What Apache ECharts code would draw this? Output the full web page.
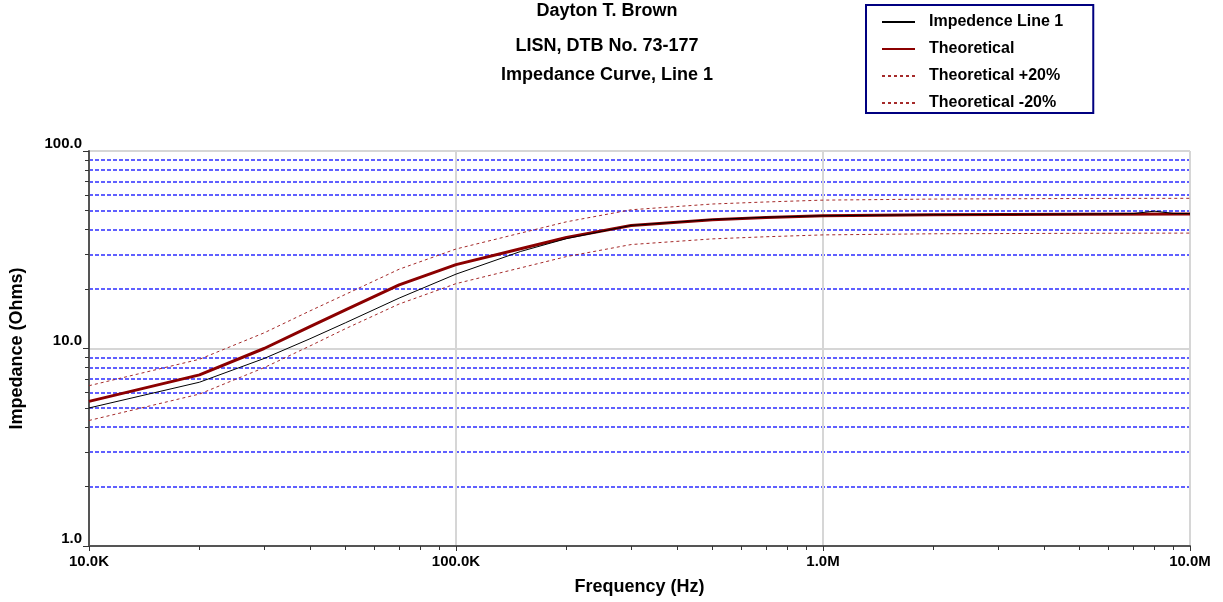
<!DOCTYPE html>
<html>
<head>
<meta charset="utf-8">
<script src="https://cdn.jsdelivr.net/npm/echarts@6/dist/echarts.min.js"></script>
<style>
  html, body { margin: 0; padding: 0; background: #fff; }
  #container { width: 1223px; height: 602px; }
</style>
</head>
<body>
<div id="container"></div>
<script>
var dom = document.getElementById("container");
var myChart = echarts.init(dom);

// frequencies (Hz) for the theoretical curves
var theoFreq = [1e4, 2e4, 3e4, 4e4, 5e4, 7e4, 1e5, 1.5e5, 2e5, 3e5, 5e5, 7e5, 1e6, 2e6, 5e6, 1e7];
var theoretical = [5.4, 7.35, 10.0, 12.9, 15.7, 21.0, 26.6, 32.0, 36.5, 42.0, 44.9, 46.0, 47.0, 47.6, 47.9, 48.0];
var theoPlus20 = [6.48, 8.82, 12.0, 15.5, 18.8, 25.2, 31.9, 38.4, 43.8, 50.4, 53.9, 55.2, 56.4, 57.1, 57.5, 57.6];
var theoMinus20 = [4.32, 5.88, 8.0, 10.3, 12.6, 16.8, 21.3, 25.6, 29.2, 33.6, 35.9, 36.8, 37.6, 38.1, 38.3, 38.4];

// measured line 1
var lineFreq = [1e4, 2e4, 3e4, 4e4, 5e4, 7e4, 1e5, 1.5e5, 2e5, 3e5, 5e5, 7e5, 1e6, 2e6, 5e6, 7e6, 8e6, 9e6, 1e7];
var line1 = [5.0, 6.75, 8.9, 11.2, 13.5, 18.0, 23.8, 31.0, 36.0, 42.0, 45.0, 46.2, 47.0, 47.6, 47.9, 48.2, 49.6, 48.3, 48.2];

// minor tick positions
var xMinor = [2e4, 3e4, 4e4, 5e4, 6e4, 7e4, 8e4, 9e4,
              2e5, 3e5, 4e5, 5e5, 6e5, 7e5, 8e5, 9e5,
              2e6, 3e6, 4e6, 5e6, 6e6, 7e6, 8e6, 9e6];
var yMinor = [2, 3, 4, 5, 6, 7, 8, 9, 20, 30, 40, 50, 60, 70, 80, 90];

var titles = ['Dayton T. Brown', 'LISN, DTB No. 73-177', 'Impedance Curve, Line 1'];
var titleTops = [2, 37, 66];

function pairs(xs, ys) {
    return xs.map(function (x, i) { return [x, ys[i]]; });
}

var font = 'Liberation Sans, Arial, sans-serif';

option = {
    animation: false,
    backgroundColor: '#ffffff',
    title: titles.map(function (t, i) {
        return {
            text: t,
            left: 607,
            top: titleTops[i],
            padding: 0,
            textAlign: 'center',
            textStyle: { fontFamily: font, fontSize: 18, fontWeight: 'bold', color: '#000' }
        };
    }),
    legend: {
        orient: 'vertical',
        left: 866,
        top: 5,
        padding: [9, 30, 2, 15],
        itemWidth: 33,
        itemHeight: 14,
        itemGap: 11,
        borderColor: '#000080',
        borderWidth: 2,
        borderRadius: 0,
        itemStyle: { opacity: 0 },
        textStyle: { fontFamily: font, fontSize: 16, fontWeight: 'bold', color: '#000', padding: [0, 0, 0, 9] },
        data: ['Impedence Line 1', 'Theoretical', 'Theoretical +20%', 'Theoretical -20%']
    },
    grid: { left: 89, right: 33, top: 151, bottom: 56 },
    xAxis: [{
        type: 'log',
        logBase: 10,
        min: 1e4,
        max: 1e7,
        name: 'Frequency (Hz)',
        nameLocation: 'middle',
        nameGap: 32,
        nameTextStyle: { fontFamily: font, fontSize: 18, fontWeight: 'bold', color: '#000' },
        axisLine: { lineStyle: { color: '#555', width: 2 } },
        axisTick: { show: true, length: 5, lineStyle: { color: '#333' } },
        axisLabel: {
            fontFamily: font, fontSize: 15, fontWeight: 'bold', color: '#000', margin: 8,
            formatter: function (v) {
                return v >= 1e6 ? (v / 1e6).toFixed(1) + 'M' : (v / 1e3).toFixed(1) + 'K';
            }
        },
        splitLine: { show: true, lineStyle: { color: '#d6d6d6', width: 2 } }
    }, {
        type: 'log',
        logBase: 10,
        min: 1e4,
        max: 1e7,
        position: 'bottom',
        axisLine: { show: false },
        axisTick: { show: true, length: 4, customValues: xMinor, lineStyle: { color: '#333' } },
        axisLabel: { show: false },
        splitLine: { show: false }
    }],
    yAxis: [{
        type: 'log',
        logBase: 10,
        min: 1,
        max: 100,
        name: 'Impedance (Ohms)',
        nameLocation: 'middle',
        nameGap: 63,
        nameTextStyle: { fontFamily: font, fontSize: 18, fontWeight: 'bold', color: '#000' },
        axisLine: { show: true, lineStyle: { color: '#555', width: 2 } },
        axisTick: { show: true, length: 6, lineStyle: { color: '#333' } },
        axisLabel: {
            fontFamily: font, fontSize: 15, fontWeight: 'bold', color: '#000', margin: 7,
            verticalAlign: 'bottom',
            formatter: function (v) { return v.toFixed(1); }
        },
        splitLine: { show: true, lineStyle: { color: '#d6d6d6', width: 2 } }
    }, {
        type: 'log',
        logBase: 10,
        min: 1,
        max: 100,
        position: 'left',
        axisLine: { show: false },
        axisTick: { show: true, length: 4, customValues: yMinor, lineStyle: { color: '#333' } },
        axisLabel: { show: false },
        splitLine: { show: true, lineStyle: { color: '#6060ff', width: 2, type: [4, 2] } }
    }],
    series: [{
        name: 'Impedence Line 1',
        type: 'line',
        symbol: 'none',
        z: 4,
        lineStyle: { color: '#000000', width: 1 },
        itemStyle: { color: '#000000' },
        data: pairs(lineFreq, line1)
    }, {
        name: 'Theoretical',
        type: 'line',
        symbol: 'none',
        z: 3,
        lineStyle: { color: '#8b0000', width: 3 },
        itemStyle: { color: '#8b0000' },
        data: pairs(theoFreq, theoretical)
    }, {
        name: 'Theoretical +20%',
        type: 'line',
        symbol: 'none',
        z: 2,
        lineStyle: { color: '#a52a2a', width: 1, type: [3, 3] },
        itemStyle: { color: '#a52a2a' },
        data: pairs(theoFreq, theoPlus20)
    }, {
        name: 'Theoretical -20%',
        type: 'line',
        symbol: 'none',
        z: 2,
        lineStyle: { color: '#a52a2a', width: 1, type: [3, 3] },
        itemStyle: { color: '#a52a2a' },
        data: pairs(theoFreq, theoMinus20)
    }]
};

if (option && typeof option === "object") {
    myChart.setOption(option, true);
}
</script>
</body>
</html>
